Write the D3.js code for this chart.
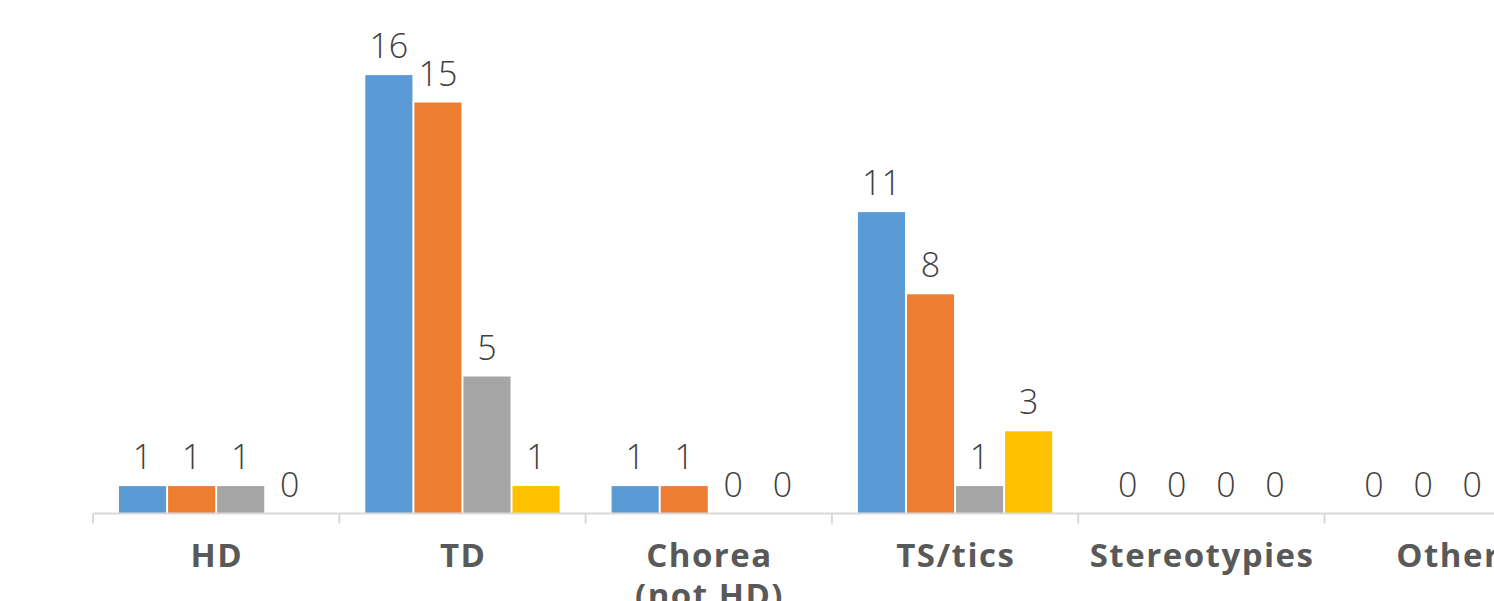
<!DOCTYPE html>
<html><head><meta charset="utf-8">
<script src="https://cdn.jsdelivr.net/npm/d3@7"></script>
<style>html,body{margin:0;padding:0;background:#fff;overflow:hidden}</style>
</head><body>
<svg id="chart" width="1494" height="601"></svg>
<script>
const categories = ["HD", "TD", "Chorea|(not HD)", "TS/tics", "Stereotypies", "Other"];
const seriesNames = ["Series 1", "Series 2", "Series 3", "Series 4"];
const series1 = [1, 16, 1, 11, 0, 0];
const series2 = [1, 15, 1, 8, 0, 0];
const series3 = [1, 5, 0, 1, 0, 0];
const series4 = [0, 1, 0, 3, 0, 0];
const colors = ["#5B9BD5", "#ED7D31", "#A5A5A5", "#FFC000"];

const seriesValues = [series1, series2, series3, series4];
const svg = d3.select("#chart");
const baseY = 513.5;
const x0 = d3.scaleBand().domain(categories).range([93, 93 + 246.3 * categories.length]).padding(0);
const x1 = d3.scaleBand().domain(seriesNames).range([26, x0.bandwidth() - 26]).paddingInner(0.04);
const y = d3.scaleLinear().domain([0, 16]).range([baseY, baseY - 16 * 27.4]);

const data = [];
categories.forEach((c, i) => seriesNames.forEach((s, j) => data.push({c, s, j, v: seriesValues[j][i]})));

svg.selectAll("rect.bar").data(data).join("rect")
  .attr("class", "bar")
  .attr("x", d => x0(d.c) + x1(d.s))
  .attr("y", d => y(d.v))
  .attr("width", x1.bandwidth())
  .attr("height", d => baseY - y(d.v))
  .attr("fill", d => colors[d.j]);

// axis
const axis = d3.axisBottom(x0).tickSize(0).tickFormat("");
const g = svg.append("g").attr("transform", `translate(0,${baseY})`).call(axis);
g.select(".domain").attr("stroke", "#d9d9d9").attr("stroke-width", 2).attr("d", `M${x0.range()[0]},0H${x0.range()[1]}`);
const bounds = categories.map(c => x0(c)).concat([x0.range()[1]]);
svg.selectAll("line.tk").data(bounds).join("line").attr("class", "tk")
  .attr("x1", d => d).attr("x2", d => d)
  .attr("y1", baseY).attr("y2", baseY + 10)
  .attr("stroke", "#d9d9d9").attr("stroke-width", 2);

// value labels
svg.selectAll("text.val").data(data).join("text")
  .attr("class", "val")
  .attr("x", d => x0(d.c) + x1(d.s) + x1.bandwidth() / 2)
  .attr("y", d => y(d.v) - 17)
  .attr("text-anchor", "middle")
  .attr("font-family", "'Open Sans', sans-serif")
  .attr("font-weight", 300)
  .attr("font-size", 34)
  .attr("fill", "#404040")
  .text(d => d.v);

// category labels
const cl = svg.selectAll("text.cat").data(categories).join("text")
  .attr("class", "cat")
  .attr("text-anchor", "middle")
  .attr("font-family", "'Open Sans', sans-serif")
  .attr("font-weight", 700)
  .attr("font-size", 33)
  .attr("letter-spacing", 1.5)
  .attr("fill", "#595959");
cl.each(function(c) {
  const parts = c.split("|");
  d3.select(this).selectAll("tspan").data(parts).join("tspan")
    .attr("x", x0(c) + x0.bandwidth() / 2 + 0.75)
    .attr("y", (p, i) => 567 + i * 40)
    .text(p => p);
});
</script>
</body></html>
